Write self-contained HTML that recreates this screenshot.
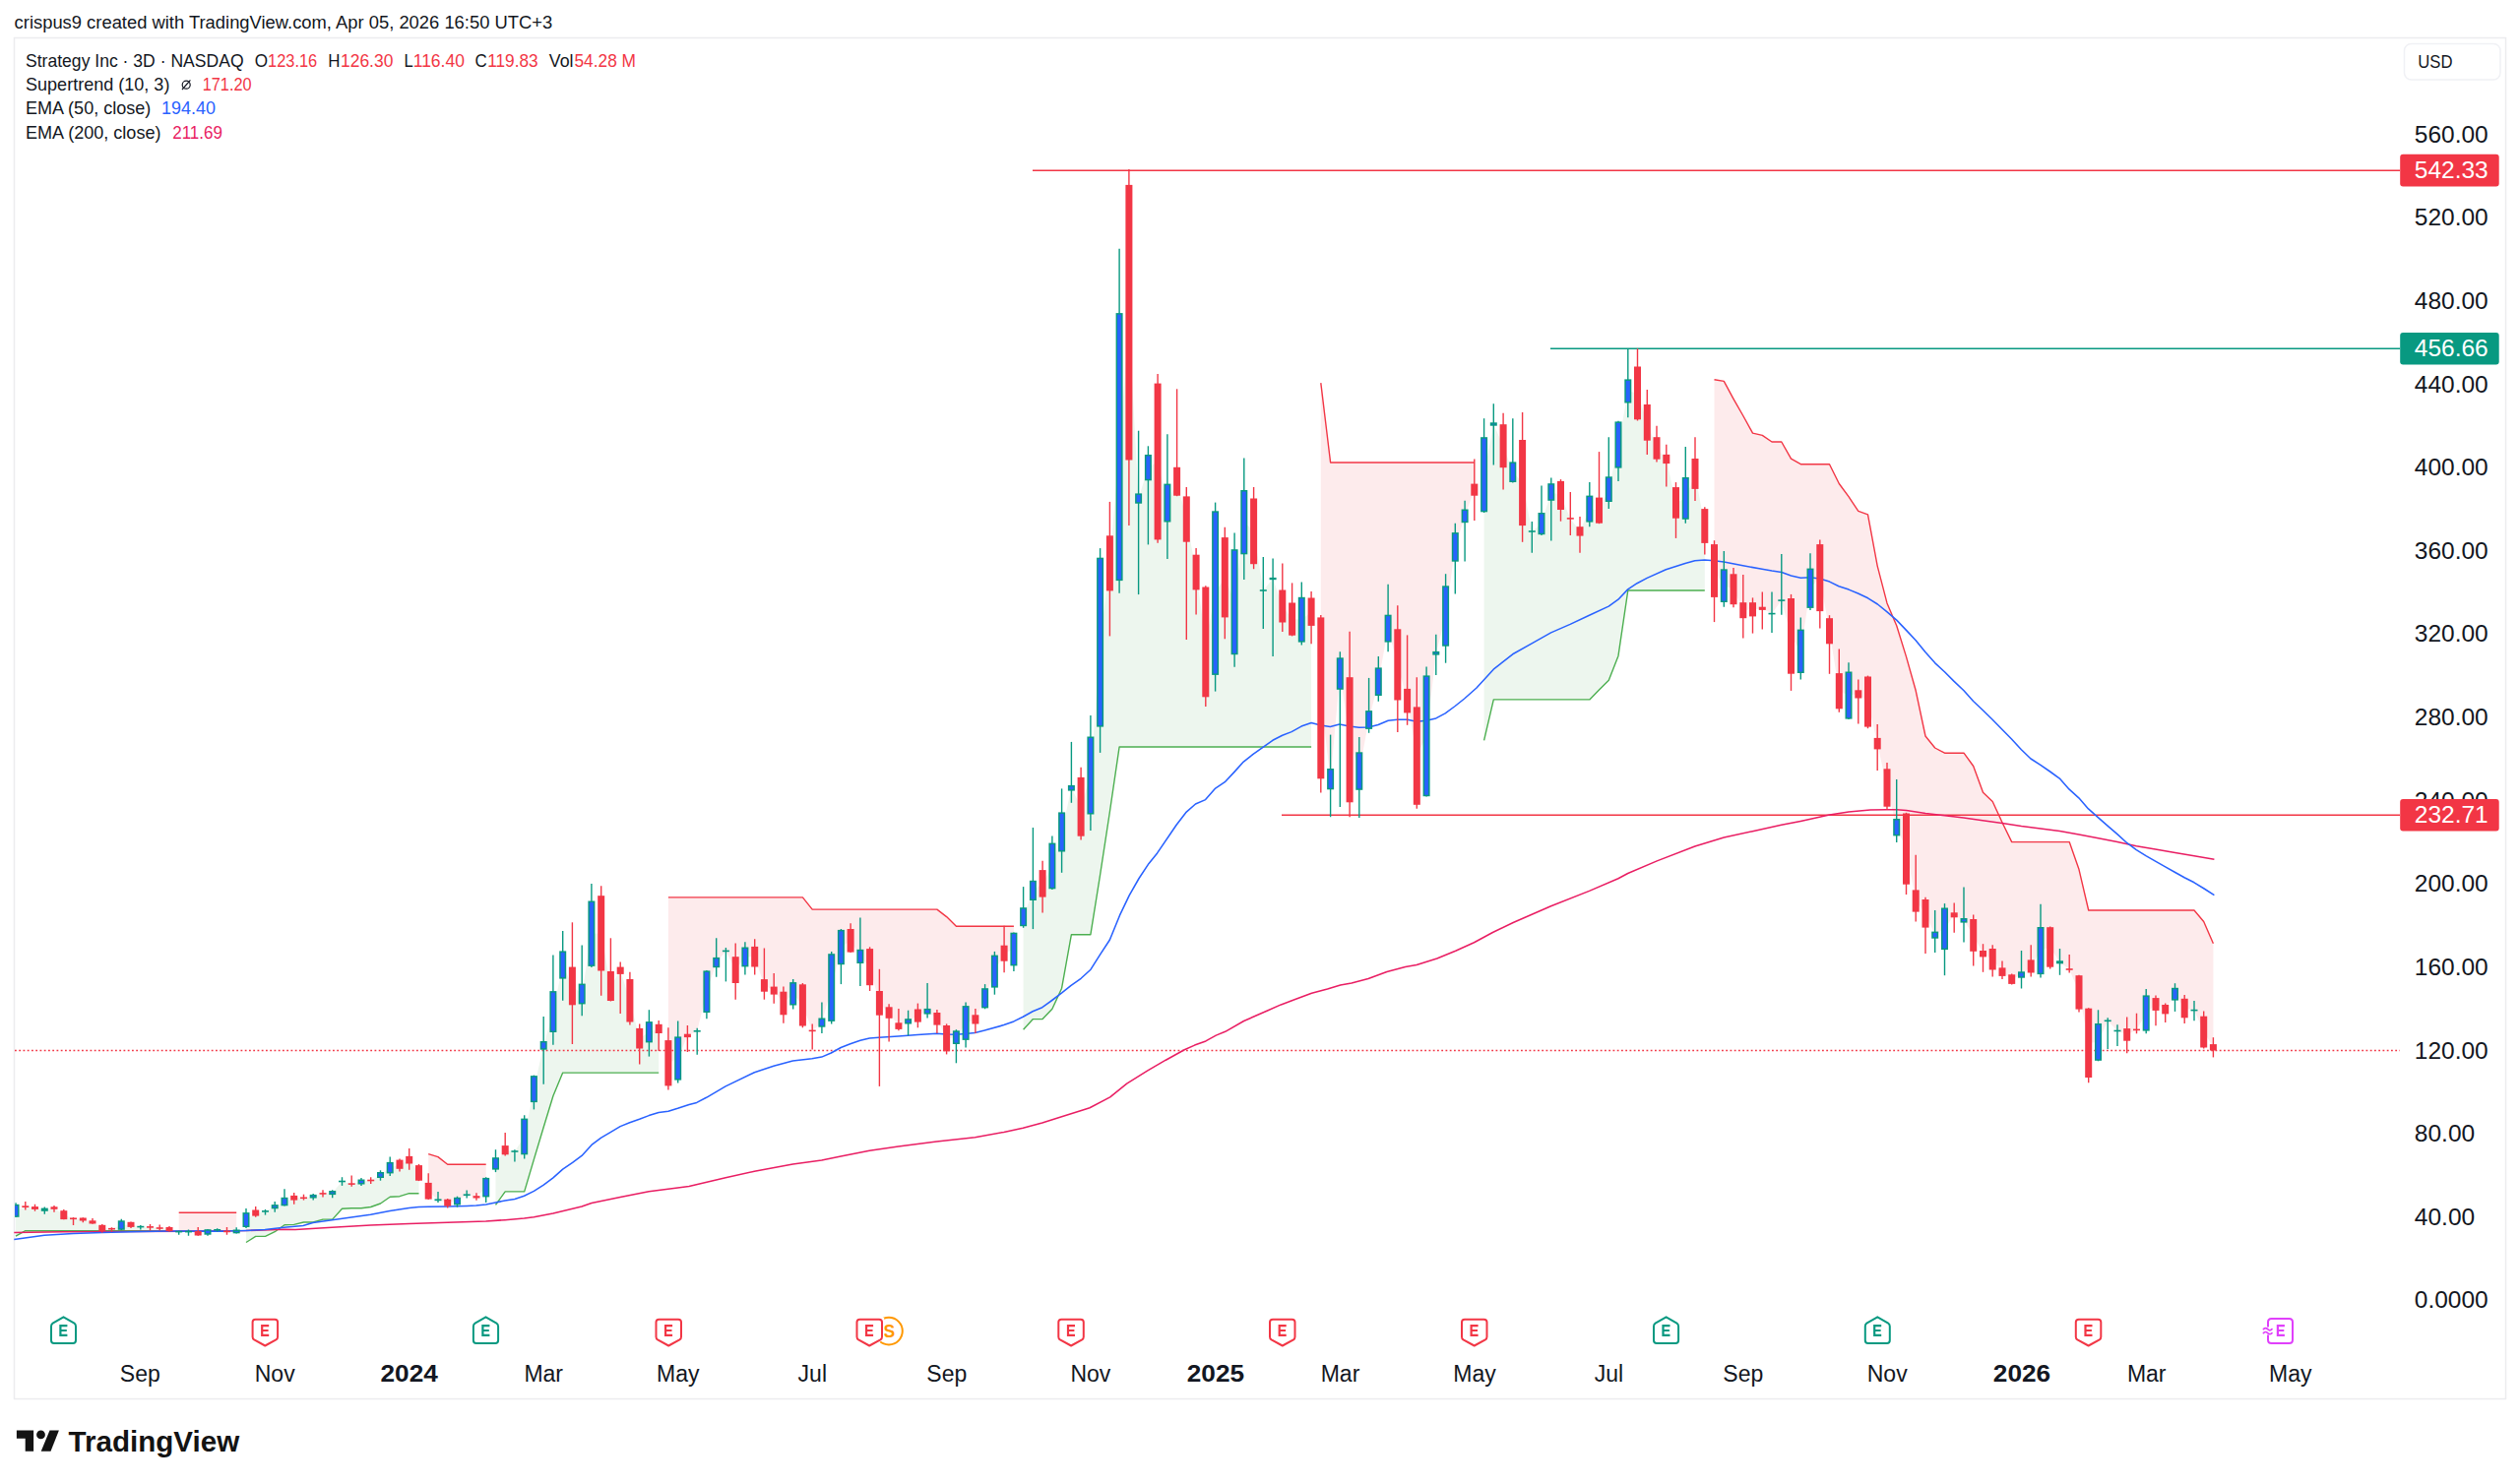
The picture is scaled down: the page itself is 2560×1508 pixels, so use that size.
<!DOCTYPE html>
<html><head><meta charset="utf-8"><title>MSTR chart</title>
<style>html,body{margin:0;padding:0;background:#fff}body{width:2560px;height:1508px;overflow:hidden;font-family:"Liberation Sans", sans-serif}svg{display:block}text{font-family:"Liberation Sans", sans-serif}</style>
</head><body>
<svg width="2560" height="1508" viewBox="0 0 2560 1508">
<rect width="2560" height="1508" fill="#fff"/>
<rect x="14.5" y="38.5" width="2531" height="1383" fill="#fff" stroke="#ececef" stroke-width="1.5"/>
<path d="M16 1256.2 L25.8 1250.7 L35.5 1250.7 L45.3 1250.7 L55 1250.7 L64.8 1250.7 L74.5 1250.7 L84.3 1250.7 L94 1250.7 L103.8 1250.7 L113.5 1250.7 L123.3 1250.7 L133 1250.7 L142.8 1250.7 L152.5 1250.7 L162.2 1250.7 L172 1250.7 L172 1249.1 L162.2 1248 L152.5 1246.9 L142.8 1246.6 L133 1244.4 L123.3 1245.1 L113.5 1248.7 L103.8 1247.9 L94 1241.9 L84.3 1239 L74.5 1238.3 L64.8 1234.6 L55 1227.6 L45.3 1229.2 L35.5 1227.5 L25.8 1226.2 L16 1230.3Z" fill="#edf6ee"/>
<path d="M181.7 1232.3 L191.5 1232.3 L201.2 1232.3 L211 1232.3 L220.7 1232.3 L230.5 1232.3 L240.2 1232.3 L240.2 1251.4 L230.5 1251.4 L220.7 1249.8 L211 1251.9 L201.2 1253.3 L191.5 1251.6 L181.7 1251.6Z" fill="#fdebec"/>
<path d="M250 1262.5 L259.7 1256.4 L269.5 1256.4 L279.2 1251.7 L289 1244.8 L298.7 1244.4 L308.5 1242 L318.2 1242 L328 1239.1 L337.7 1239.1 L347.5 1228.3 L357.2 1227.8 L367 1227.8 L376.7 1226.5 L386.5 1223 L396.2 1216.2 L406 1215.7 L415.7 1212.7 L425.5 1212.7 L425.5 1191.9 L415.7 1178.7 L406 1183.2 L396.2 1186.6 L386.5 1193.9 L376.7 1199.5 L367 1201 L357.2 1203.1 L347.5 1200.5 L337.7 1212 L328 1212.9 L318.2 1215.7 L308.5 1217.3 L298.7 1217.3 L289 1221.1 L279.2 1226.2 L269.5 1230.9 L259.7 1232.6 L250 1239.5Z" fill="#edf6ee"/>
<path d="M435.2 1172.6 L445 1175.6 L454.7 1183.2 L464.5 1183.2 L474.2 1183.2 L484 1183.2 L493.7 1183.2 L493.7 1206.6 L484 1216.4 L474.2 1214.2 L464.5 1220.6 L454.7 1222.1 L445 1219.4 L435.2 1210.3Z" fill="#fdebec"/>
<path d="M503.5 1224.4 L513.2 1210.9 L522.9 1210.9 L532.7 1210.9 L542.4 1178.1 L552.2 1145.5 L561.9 1113.7 L571.7 1090.1 L581.4 1090.1 L591.2 1090.1 L600.9 1090.1 L610.7 1090.1 L620.4 1090.1 L630.2 1090.1 L639.9 1090.1 L649.7 1090.1 L659.4 1090.1 L669.2 1090.1 L669.2 1045.4 L659.4 1048.7 L649.7 1055.3 L639.9 1016.8 L630.2 986.3 L620.4 1002 L610.7 948.4 L600.9 948.7 L591.2 1010 L581.4 1002 L571.7 980.5 L561.9 1028.1 L552.2 1062.4 L542.4 1106.6 L532.7 1154.9 L522.9 1170 L513.2 1168.7 L503.5 1182.4Z" fill="#edf6ee"/>
<path d="M678.9 911.9 L688.7 911.9 L698.4 911.9 L708.2 911.9 L717.9 911.9 L727.7 911.9 L737.4 911.9 L747.2 911.9 L756.9 911.9 L766.7 911.9 L776.4 911.9 L786.2 911.9 L795.9 911.9 L805.7 911.9 L815.4 911.9 L825.2 924.1 L834.9 924.1 L844.7 924.1 L854.4 924.1 L864.1 924.1 L873.9 924.1 L883.6 924.1 L893.4 924.1 L903.1 924.1 L912.9 924.1 L922.6 924.1 L932.4 924.1 L942.1 924.1 L951.9 924.1 L961.6 931.6 L971.4 941.2 L981.1 941.2 L990.9 941.2 L1000.6 941.2 L1010.4 941.2 L1020.1 941.2 L1029.9 941.2 L1029.9 964.5 L1020.1 968.7 L1010.4 987.1 L1000.6 1014.3 L990.9 1035.9 L981.1 1039.5 L971.4 1054.2 L961.6 1055.2 L951.9 1035.3 L942.1 1027.7 L932.4 1032.1 L922.6 1037.8 L912.9 1042.6 L903.1 1029 L893.4 1019.4 L883.6 982.7 L873.9 971.9 L864.1 955.8 L854.4 962.5 L844.7 1003.6 L834.9 1039.1 L825.2 1047.4 L815.4 1021.4 L805.7 1009.7 L795.9 1019.5 L786.2 1006.6 L776.4 1001.4 L766.7 972.2 L756.9 972.5 L747.2 985.6 L737.4 966.4 L727.7 978 L717.9 1007.7 L708.2 1047.8 L698.4 1052.4 L688.7 1075.5 L678.9 1080.2Z" fill="#fdebec"/>
<path d="M1039.6 1046.2 L1049.4 1035.6 L1059.1 1035.6 L1068.9 1025.3 L1078.6 1004.2 L1088.4 949.7 L1098.1 949.7 L1107.9 949.7 L1117.6 889 L1127.4 825 L1137.1 759 L1146.9 759 L1156.6 759 L1166.4 759 L1176.1 759 L1185.9 759 L1195.6 759 L1205.3 759 L1215.1 759 L1224.8 759 L1234.6 759 L1244.3 759 L1254.1 759 L1263.8 759 L1273.6 759 L1283.3 759 L1293.1 759 L1302.8 759 L1312.6 759 L1322.3 759 L1332.1 759 L1332.1 621.7 L1322.3 629.7 L1312.6 629.1 L1302.8 616 L1293.1 588 L1283.3 600 L1273.6 539.8 L1263.8 530.6 L1254.1 611.7 L1244.3 586.8 L1234.6 602.6 L1224.8 652.4 L1215.1 581.6 L1205.3 527.5 L1195.6 489.3 L1185.9 511 L1176.1 469 L1166.4 475.2 L1156.6 506.6 L1146.9 327.7 L1137.1 454.1 L1127.4 572.3 L1117.6 652.7 L1107.9 788 L1098.1 819.8 L1088.4 800.8 L1078.6 845.5 L1068.9 879.9 L1059.1 897.8 L1049.4 904.9 L1039.6 931.7Z" fill="#edf6ee"/>
<path d="M1341.8 389.1 L1351.6 470 L1361.3 470 L1371.1 470 L1380.8 470 L1390.6 470 L1400.3 470 L1410.1 470 L1419.8 470 L1429.6 470 L1439.3 470 L1449.1 470 L1458.8 470 L1468.6 470 L1478.3 470 L1488.1 470 L1497.8 470 L1497.8 497.6 L1488.1 524.3 L1478.3 555.8 L1468.6 626 L1458.8 663.7 L1449.1 747.8 L1439.3 768.2 L1429.6 712.1 L1419.8 675.5 L1410.1 638.6 L1400.3 692.7 L1390.6 731.5 L1380.8 783.5 L1371.1 751.8 L1361.3 684.5 L1351.6 791.6 L1341.8 709.4Z" fill="#fdebec"/>
<path d="M1507.6 752.3 L1517.3 710.9 L1527.1 710.9 L1536.8 710.9 L1546.6 710.9 L1556.3 710.9 L1566 710.9 L1575.8 710.9 L1585.5 710.9 L1595.3 710.9 L1605 710.9 L1614.8 710.9 L1624.5 701 L1634.3 691.2 L1644 666.4 L1653.8 600 L1663.5 600 L1673.3 600 L1683 600 L1692.8 600 L1702.5 600 L1712.3 600 L1722 600 L1731.8 600 L1731.8 534.5 L1722 481.5 L1712.3 506.4 L1702.5 510.9 L1692.8 466.5 L1683 455.5 L1673.3 429.3 L1663.5 399.5 L1653.8 397.4 L1644 452 L1634.3 497.2 L1624.5 518.7 L1614.8 517.1 L1605 539.9 L1595.3 526.9 L1585.5 503.5 L1575.8 500 L1566 532.1 L1556.3 540 L1546.6 490.5 L1536.8 479.7 L1527.1 453.2 L1517.3 431.1 L1507.6 482.3Z" fill="#edf6ee"/>
<path d="M1741.5 385.8 L1751.3 387.4 L1761 405.3 L1770.8 422.5 L1780.5 440.1 L1790.3 442.4 L1800 449 L1809.8 449 L1819.5 466.2 L1829.3 471.7 L1839 471.7 L1848.8 471.7 L1858.5 471.7 L1868.3 491.5 L1878 504.7 L1887.8 519.4 L1897.5 522.8 L1907.2 575.1 L1917 612.9 L1926.7 635.8 L1936.5 667.4 L1946.2 701.8 L1956 748 L1965.7 760 L1975.5 765.2 L1985.2 765.2 L1995 765.2 L2004.7 778.5 L2014.5 805.3 L2024.2 814.5 L2034 835.7 L2043.7 855.6 L2053.5 855.6 L2063.2 855.6 L2073 855.6 L2082.7 855.6 L2092.5 855.6 L2102.2 855.6 L2112 883.6 L2121.7 925 L2131.5 925 L2141.2 925 L2151 925 L2160.7 925 L2170.5 925 L2180.2 925 L2190 925 L2199.7 925 L2209.5 925 L2219.2 925 L2229 925 L2238.7 936.5 L2248.4 958.7 L2248.4 1064.3 L2238.7 1048.6 L2229 1026.6 L2219.2 1024.6 L2209.5 1010.2 L2199.7 1025.7 L2190 1020.5 L2180.2 1029.5 L2170.5 1046.4 L2160.7 1051.4 L2151 1047.5 L2141.2 1037.3 L2131.5 1058.9 L2121.7 1059.8 L2112 1008.4 L2102.2 985 L2092.5 977.8 L2082.7 962.5 L2073 966 L2063.2 981.9 L2053.5 990.5 L2043.7 995.1 L2034 987.7 L2024.2 974.7 L2014.5 969.2 L2004.7 950.3 L1995 935.3 L1985.2 929.8 L1975.5 943.8 L1965.7 950.1 L1956 928.3 L1946.2 915.5 L1936.5 862.6 L1926.7 840.7 L1917 800.4 L1907.2 755.6 L1897.5 713.1 L1887.8 705.4 L1878 706.5 L1868.3 702.2 L1858.5 641.2 L1848.8 587.1 L1839 597.7 L1829.3 661.9 L1819.5 646.4 L1809.8 610.1 L1800 623.6 L1790.3 618.4 L1780.5 619.3 L1770.8 620.2 L1761 598.8 L1751.3 595.1 L1741.5 580Z" fill="#fdebec"/>
<line x1="15" y1="1067.6" x2="2438" y2="1067.6" stroke="#f23645" stroke-width="1.5" stroke-dasharray="1.8 2.45"/>
<line x1="1049" y1="173.2" x2="2438" y2="173.2" stroke="#f23645" stroke-width="1.6"/>
<line x1="1575" y1="354.3" x2="2438" y2="354.3" stroke="#089981" stroke-width="1.6"/>
<line x1="1302" y1="828.3" x2="2438" y2="828.3" stroke="#f23645" stroke-width="1.6"/>
<path d="M16 1256.2 L25.8 1250.7 L35.5 1250.7 L45.3 1250.7 L55 1250.7 L64.8 1250.7 L74.5 1250.7 L84.3 1250.7 L94 1250.7 L103.8 1250.7 L113.5 1250.7 L123.3 1250.7 L133 1250.7 L142.8 1250.7 L152.5 1250.7 L162.2 1250.7 L172 1250.7" fill="none" stroke="#4caf50" stroke-width="1.4" stroke-linejoin="round"/>
<path d="M181.7 1232.3 L191.5 1232.3 L201.2 1232.3 L211 1232.3 L220.7 1232.3 L230.5 1232.3 L240.2 1232.3" fill="none" stroke="#f23645" stroke-width="1.4" stroke-linejoin="round"/>
<path d="M250 1262.5 L259.7 1256.4 L269.5 1256.4 L279.2 1251.7 L289 1244.8 L298.7 1244.4 L308.5 1242 L318.2 1242 L328 1239.1 L337.7 1239.1 L347.5 1228.3 L357.2 1227.8 L367 1227.8 L376.7 1226.5 L386.5 1223 L396.2 1216.2 L406 1215.7 L415.7 1212.7 L425.5 1212.7" fill="none" stroke="#4caf50" stroke-width="1.4" stroke-linejoin="round"/>
<path d="M435.2 1172.6 L445 1175.6 L454.7 1183.2 L464.5 1183.2 L474.2 1183.2 L484 1183.2 L493.7 1183.2" fill="none" stroke="#f23645" stroke-width="1.4" stroke-linejoin="round"/>
<path d="M503.5 1224.4 L513.2 1210.9 L522.9 1210.9 L532.7 1210.9 L542.4 1178.1 L552.2 1145.5 L561.9 1113.7 L571.7 1090.1 L581.4 1090.1 L591.2 1090.1 L600.9 1090.1 L610.7 1090.1 L620.4 1090.1 L630.2 1090.1 L639.9 1090.1 L649.7 1090.1 L659.4 1090.1 L669.2 1090.1" fill="none" stroke="#4caf50" stroke-width="1.4" stroke-linejoin="round"/>
<path d="M678.9 911.9 L688.7 911.9 L698.4 911.9 L708.2 911.9 L717.9 911.9 L727.7 911.9 L737.4 911.9 L747.2 911.9 L756.9 911.9 L766.7 911.9 L776.4 911.9 L786.2 911.9 L795.9 911.9 L805.7 911.9 L815.4 911.9 L825.2 924.1 L834.9 924.1 L844.7 924.1 L854.4 924.1 L864.1 924.1 L873.9 924.1 L883.6 924.1 L893.4 924.1 L903.1 924.1 L912.9 924.1 L922.6 924.1 L932.4 924.1 L942.1 924.1 L951.9 924.1 L961.6 931.6 L971.4 941.2 L981.1 941.2 L990.9 941.2 L1000.6 941.2 L1010.4 941.2 L1020.1 941.2 L1029.9 941.2" fill="none" stroke="#f23645" stroke-width="1.4" stroke-linejoin="round"/>
<path d="M1039.6 1046.2 L1049.4 1035.6 L1059.1 1035.6 L1068.9 1025.3 L1078.6 1004.2 L1088.4 949.7 L1098.1 949.7 L1107.9 949.7 L1117.6 889 L1127.4 825 L1137.1 759 L1146.9 759 L1156.6 759 L1166.4 759 L1176.1 759 L1185.9 759 L1195.6 759 L1205.3 759 L1215.1 759 L1224.8 759 L1234.6 759 L1244.3 759 L1254.1 759 L1263.8 759 L1273.6 759 L1283.3 759 L1293.1 759 L1302.8 759 L1312.6 759 L1322.3 759 L1332.1 759" fill="none" stroke="#4caf50" stroke-width="1.4" stroke-linejoin="round"/>
<path d="M1341.8 389.1 L1351.6 470 L1361.3 470 L1371.1 470 L1380.8 470 L1390.6 470 L1400.3 470 L1410.1 470 L1419.8 470 L1429.6 470 L1439.3 470 L1449.1 470 L1458.8 470 L1468.6 470 L1478.3 470 L1488.1 470 L1497.8 470" fill="none" stroke="#f23645" stroke-width="1.4" stroke-linejoin="round"/>
<path d="M1507.6 752.3 L1517.3 710.9 L1527.1 710.9 L1536.8 710.9 L1546.6 710.9 L1556.3 710.9 L1566 710.9 L1575.8 710.9 L1585.5 710.9 L1595.3 710.9 L1605 710.9 L1614.8 710.9 L1624.5 701 L1634.3 691.2 L1644 666.4 L1653.8 600 L1663.5 600 L1673.3 600 L1683 600 L1692.8 600 L1702.5 600 L1712.3 600 L1722 600 L1731.8 600" fill="none" stroke="#4caf50" stroke-width="1.4" stroke-linejoin="round"/>
<path d="M1741.5 385.8 L1751.3 387.4 L1761 405.3 L1770.8 422.5 L1780.5 440.1 L1790.3 442.4 L1800 449 L1809.8 449 L1819.5 466.2 L1829.3 471.7 L1839 471.7 L1848.8 471.7 L1858.5 471.7 L1868.3 491.5 L1878 504.7 L1887.8 519.4 L1897.5 522.8 L1907.2 575.1 L1917 612.9 L1926.7 635.8 L1936.5 667.4 L1946.2 701.8 L1956 748 L1965.7 760 L1975.5 765.2 L1985.2 765.2 L1995 765.2 L2004.7 778.5 L2014.5 805.3 L2024.2 814.5 L2034 835.7 L2043.7 855.6 L2053.5 855.6 L2063.2 855.6 L2073 855.6 L2082.7 855.6 L2092.5 855.6 L2102.2 855.6 L2112 883.6 L2121.7 925 L2131.5 925 L2141.2 925 L2151 925 L2160.7 925 L2170.5 925 L2180.2 925 L2190 925 L2199.7 925 L2209.5 925 L2219.2 925 L2229 925 L2238.7 936.5 L2248.4 958.7" fill="none" stroke="#f23645" stroke-width="1.4" stroke-linejoin="round"/>
<path d="M14.3 1252.5 L63.5 1251.7 L127 1251.5 L190.5 1251.1 L249.8 1250.5 L288.5 1249.2 L300 1249.6 L337.3 1247.3 L376.5 1245 L415.5 1243.4 L454.6 1242.3 L493.6 1240.9 L513.1 1239.7 L532.5 1238.1 L542.4 1236.8 L561.9 1232.9 L591 1226 L601 1222.6 L630.1 1216.4 L659.2 1210.7 L688.5 1207 L700 1205.4 L737.1 1196.7 L766.4 1190.3 L805.4 1182.9 L834.7 1179 L854.2 1174.9 L883.3 1169.2 L912.6 1165.1 L951.5 1160 L990.5 1155.7 L1019.8 1150.4 L1039.3 1146.3 L1058.8 1141 L1078.5 1134.8 L1100 1127.9 L1107 1125.8 L1127.7 1114.9 L1144.7 1101.1 L1165.5 1088.1 L1184.3 1077.2 L1203.2 1066.8 L1213.6 1062.1 L1224.9 1057.9 L1235.3 1052.1 L1244.7 1048.3 L1263.6 1037.5 L1274.9 1032.5 L1288.1 1026.8 L1301.3 1020.9 L1316.4 1015.3 L1332.5 1009.2 L1348.5 1005.1 L1361.7 1000.9 L1373 998.9 L1390 994.5 L1408.9 987.5 L1427.7 982.5 L1439.1 980.6 L1459.8 974 L1478.7 966.2 L1497.5 957.7 L1516.4 947.5 L1537.2 937.5 L1575.6 920.7 L1614.5 905.4 L1643.9 892.8 L1653.7 887.5 L1683.3 874.9 L1721.8 860 L1751.3 850.9 L1780.4 844.7 L1809.7 838.3 L1829.2 834.4 L1858.5 827.9 L1878 825 L1900 822.9 L1916.7 822.8 L1926.8 822.8 L1936.7 823.5 L1956.1 826.5 L1975.6 828.8 L1994.8 831.1 L2014.1 833.8 L2034 836.6 L2053.5 839.6 L2073 841.9 L2092.4 844.6 L2111.9 848 L2131.6 851.7 L2150.9 855.6 L2170.3 859.7 L2189.6 862.9 L2209.7 866.4 L2229 869.8 L2249.4 873.2" fill="none" stroke="#e91e63" stroke-width="1.55" stroke-linejoin="round"/>
<path d="M14.3 1259.6 L45.1 1255.3 L74.4 1253.4 L103.7 1252.4 L132.4 1251.7 L171.7 1251.1 L201.1 1251.1 L229.8 1251.1 L249.8 1250.5 L269.2 1249.5 L288.5 1247.3 L307.9 1245.4 L317.9 1242.5 L337.3 1239.7 L356.8 1237 L376.5 1234.2 L396 1230.6 L415.5 1227.4 L425.3 1226.5 L434.9 1226.2 L454.6 1226 L474.1 1225.5 L483.7 1225.1 L493.6 1223.9 L503.4 1221.9 L513.1 1220 L522.9 1218.4 L532.5 1215.2 L542.4 1210.4 L552.2 1204.2 L561.9 1196.9 L571.7 1188.1 L581.6 1181.3 L591 1174.4 L601 1163.4 L610.7 1156.1 L620.5 1150.3 L630.1 1144.6 L639.7 1140.7 L649.6 1137.3 L659.2 1133.6 L669.1 1130.4 L678.9 1129.3 L688.5 1126.3 L700 1122.4 L707.8 1120.4 L717.6 1115.3 L737.1 1103.9 L766.4 1089.7 L785.9 1083.3 L805.4 1078 L824.9 1075.7 L834.7 1074.1 L844.3 1070 L854.2 1064.5 L863.8 1060.8 L873.9 1057.2 L883.3 1055.1 L893.1 1054.2 L912.6 1053 L932.1 1051.4 L951.5 1050.3 L961.4 1051 L971 1051.2 L980.9 1050.5 L990.5 1049.6 L1000.3 1047.1 L1019.8 1041.6 L1029.9 1037.9 L1039.3 1033.3 L1049.1 1027.8 L1058.8 1023.7 L1068.7 1016.5 L1078.7 1008.9 L1088.1 1001.4 L1098.1 994.3 L1108 985.2 L1117.5 970.1 L1127.4 955 L1137.5 930.2 L1147.2 909.8 L1157.1 892.5 L1167.1 877.4 L1175.6 866.9 L1195.1 838.3 L1204.7 825.7 L1214.5 817 L1224.6 812.6 L1234.7 801.1 L1244.3 794.7 L1254 784.4 L1263.3 774.1 L1273.4 766.1 L1283.3 759.2 L1292.9 752.3 L1302.7 747.3 L1312.1 743.6 L1322 738.1 L1332.1 734.5 L1341.7 737 L1351.3 738.4 L1360.7 736.1 L1370.8 738.1 L1380.6 739.3 L1390.3 739.1 L1400.1 736.5 L1410.2 732.2 L1419.6 731.3 L1429.7 731.3 L1439.1 733.3 L1448.9 732.2 L1458.8 729.9 L1468.2 724.9 L1478.2 717.5 L1487.6 710 L1500 699 L1517.2 680.2 L1536.7 664.8 L1556.1 653.9 L1575.6 642.9 L1595.1 634.4 L1614.5 625.2 L1634.2 616.1 L1643.9 609.2 L1653.7 598.9 L1663.1 592.7 L1673.2 587.4 L1692.4 578.7 L1711.9 572.5 L1721.8 569.8 L1731.8 569.1 L1741.2 569.8 L1751.3 570.9 L1770.6 574.8 L1790 578.3 L1800 580.1 L1809.9 581.5 L1819.5 584.9 L1829.3 587.2 L1838.7 586.8 L1848.6 588.1 L1858.6 591.1 L1868 595.7 L1878.1 599.1 L1887.5 603 L1897.6 607.8 L1907.4 614 L1916.8 621.6 L1926.7 630.1 L1936.5 640.4 L1946.2 650.7 L1955.8 662.6 L1965.6 673.6 L1975.5 682.7 L1985.1 692.4 L1995 701.8 L2004.6 712.5 L2014.4 721.7 L2024.1 731.3 L2033.9 741.2 L2043.5 751 L2053.4 761.8 L2063 771 L2072.9 777.4 L2082.5 784 L2092.3 791.1 L2101.9 801.9 L2111.8 810.8 L2121.5 821.9 L2131.6 830.9 L2141 839.1 L2150.9 847.6 L2160.9 856.7 L2170.3 863.6 L2180.4 869.8 L2189.6 875.1 L2199.7 880.8 L2209.7 886.5 L2219.1 891.8 L2229 896.8 L2239.1 903 L2249.4 909.7" fill="none" stroke="#2962ff" stroke-width="1.55" stroke-linejoin="round"/>
<g clip-path="url(#cl)"><path d="M16 1222.3V1237" stroke="#089981" stroke-width="1.4"/><rect x="12.5" y="1223.8" width="7" height="13" fill="#089981"/><rect x="14" y="1225.3" width="4" height="10" fill="#2962ff"/><path d="M25.8 1221V1229.5" stroke="#f23645" stroke-width="1.4"/><rect x="22.3" y="1225.3" width="7" height="1.7" fill="#f23645"/><path d="M35.5 1223.8V1230.8" stroke="#f23645" stroke-width="1.4"/><rect x="32" y="1226.1" width="7" height="2.8" fill="#f23645"/><path d="M45.3 1226.6V1233.7" stroke="#089981" stroke-width="1.4"/><rect x="41.8" y="1227.6" width="7" height="3.2" fill="#089981"/><path d="M55 1225.1V1231.7" stroke="#f23645" stroke-width="1.4"/><rect x="51.5" y="1226.3" width="7" height="2.5" fill="#f23645"/><path d="M64.8 1228.9V1239.3" stroke="#f23645" stroke-width="1.4"/><rect x="61.3" y="1230.2" width="7" height="8.9" fill="#f23645"/><path d="M74.5 1237.1V1245.1" stroke="#f23645" stroke-width="1.4"/><rect x="71" y="1237.5" width="7" height="1.6" fill="#f23645"/><path d="M84.3 1237.3V1242.2" stroke="#f23645" stroke-width="1.4"/><rect x="80.8" y="1237.5" width="7" height="3" fill="#f23645"/><path d="M94 1238V1243.7" stroke="#f23645" stroke-width="1.4"/><rect x="90.5" y="1240.3" width="7" height="3.2" fill="#f23645"/><path d="M103.8 1243.9V1252.8" stroke="#f23645" stroke-width="1.4"/><rect x="100.3" y="1244.8" width="7" height="6.3" fill="#f23645"/><path d="M113.5 1247.3V1251.7" stroke="#f23645" stroke-width="1.4"/><rect x="110" y="1247.9" width="7" height="1.6" fill="#f23645"/><path d="M123.3 1238.8V1250.1" stroke="#089981" stroke-width="1.4"/><rect x="119.8" y="1240.3" width="7" height="9.5" fill="#089981"/><rect x="121.3" y="1241.8" width="4" height="6.5" fill="#2962ff"/><path d="M133 1241.6V1247.9" stroke="#f23645" stroke-width="1.4"/><rect x="129.5" y="1241.8" width="7" height="5.1" fill="#f23645"/><path d="M142.8 1245.1V1249.5" stroke="#089981" stroke-width="1.4"/><rect x="139.3" y="1245.8" width="7" height="1.6" fill="#089981"/><path d="M152.5 1243.9V1250.2" stroke="#f23645" stroke-width="1.4"/><rect x="149" y="1246.1" width="7" height="1.6" fill="#f23645"/><path d="M162.2 1244.4V1250.2" stroke="#f23645" stroke-width="1.4"/><rect x="158.7" y="1247.2" width="7" height="1.6" fill="#f23645"/><path d="M172 1246V1251.7" stroke="#f23645" stroke-width="1.4"/><rect x="168.5" y="1247" width="7" height="4.1" fill="#f23645"/><path d="M181.7 1250.7V1254.7" stroke="#089981" stroke-width="1.4"/><rect x="178.2" y="1250.8" width="7" height="1.6" fill="#089981"/><path d="M191.5 1249.5V1255.8" stroke="#089981" stroke-width="1.4"/><rect x="188" y="1250.8" width="7" height="1.6" fill="#089981"/><path d="M201.2 1246.9V1255.8" stroke="#f23645" stroke-width="1.4"/><rect x="197.7" y="1251.1" width="7" height="4.4" fill="#f23645"/><path d="M211 1249V1255.8" stroke="#089981" stroke-width="1.4"/><rect x="207.5" y="1249.2" width="7" height="5.5" fill="#089981"/><rect x="209" y="1250.7" width="4" height="2.5" fill="#2962ff"/><path d="M220.7 1248.2V1251.5" stroke="#089981" stroke-width="1.4"/><rect x="217.2" y="1249" width="7" height="1.6" fill="#089981"/><path d="M230.5 1246.9V1254.7" stroke="#f23645" stroke-width="1.4"/><rect x="227" y="1250.6" width="7" height="1.6" fill="#f23645"/><path d="M240.2 1247.3V1253.5" stroke="#089981" stroke-width="1.4"/><rect x="236.7" y="1249.5" width="7" height="3.8" fill="#089981"/><rect x="238.2" y="1251" width="4" height="0.8" fill="#2962ff"/><path d="M250 1228V1247.9" stroke="#089981" stroke-width="1.4"/><rect x="246.5" y="1232.1" width="7" height="14.9" fill="#089981"/><rect x="248" y="1233.6" width="4" height="11.9" fill="#2962ff"/><path d="M259.7 1226V1236.8" stroke="#f23645" stroke-width="1.4"/><rect x="256.2" y="1229.5" width="7" height="6.1" fill="#f23645"/><path d="M269.5 1228.9V1234.6" stroke="#089981" stroke-width="1.4"/><rect x="266" y="1230.1" width="7" height="1.6" fill="#089981"/><path d="M279.2 1220.9V1231.7" stroke="#089981" stroke-width="1.4"/><rect x="275.7" y="1224.1" width="7" height="4.2" fill="#089981"/><rect x="277.2" y="1225.6" width="4" height="1.2" fill="#2962ff"/><path d="M289 1208.2V1225.6" stroke="#089981" stroke-width="1.4"/><rect x="285.5" y="1216.8" width="7" height="8.5" fill="#089981"/><rect x="287" y="1218.3" width="4" height="5.5" fill="#2962ff"/><path d="M298.7 1212.1V1223.8" stroke="#f23645" stroke-width="1.4"/><rect x="295.2" y="1214.9" width="7" height="4.7" fill="#f23645"/><path d="M308.5 1213.7V1219.6" stroke="#f23645" stroke-width="1.4"/><rect x="305" y="1216.5" width="7" height="1.6" fill="#f23645"/><path d="M318.2 1213V1219.4" stroke="#089981" stroke-width="1.4"/><rect x="314.7" y="1213.9" width="7" height="3.6" fill="#089981"/><rect x="316.2" y="1215.4" width="4" height="0.6" fill="#2962ff"/><path d="M328 1209.3V1216.4" stroke="#f23645" stroke-width="1.4"/><rect x="324.5" y="1212.1" width="7" height="1.6" fill="#f23645"/><path d="M337.7 1209.3V1217.3" stroke="#089981" stroke-width="1.4"/><rect x="334.2" y="1210" width="7" height="4.1" fill="#089981"/><rect x="335.7" y="1211.5" width="4" height="1.1" fill="#2962ff"/><path d="M347.5 1196.2V1204.9" stroke="#089981" stroke-width="1.4"/><rect x="344" y="1199.7" width="7" height="1.6" fill="#089981"/><path d="M357.2 1194.4V1205.8" stroke="#f23645" stroke-width="1.4"/><rect x="353.7" y="1202.3" width="7" height="1.6" fill="#f23645"/><path d="M367 1196.9V1204.9" stroke="#089981" stroke-width="1.4"/><rect x="363.5" y="1198.5" width="7" height="5" fill="#089981"/><rect x="365" y="1200" width="4" height="2" fill="#2962ff"/><path d="M376.7 1196.2V1203.1" stroke="#f23645" stroke-width="1.4"/><rect x="373.2" y="1198.7" width="7" height="1.6" fill="#f23645"/><path d="M386.5 1189.3V1199.7" stroke="#089981" stroke-width="1.4"/><rect x="383" y="1191" width="7" height="6" fill="#089981"/><rect x="384.5" y="1192.5" width="4" height="3" fill="#2962ff"/><path d="M396.2 1175.6V1195.1" stroke="#089981" stroke-width="1.4"/><rect x="392.7" y="1180.9" width="7" height="11.5" fill="#089981"/><rect x="394.2" y="1182.4" width="4" height="8.5" fill="#2962ff"/><path d="M406 1177.4V1190.5" stroke="#f23645" stroke-width="1.4"/><rect x="402.5" y="1178.6" width="7" height="9.2" fill="#f23645"/><path d="M415.7 1167.1V1188.7" stroke="#f23645" stroke-width="1.4"/><rect x="412.2" y="1174.9" width="7" height="7.6" fill="#f23645"/><path d="M425.5 1182.9V1200.1" stroke="#f23645" stroke-width="1.4"/><rect x="422" y="1184.1" width="7" height="15.6" fill="#f23645"/><path d="M435.2 1192.3V1219.1" stroke="#f23645" stroke-width="1.4"/><rect x="431.7" y="1201.9" width="7" height="16.7" fill="#f23645"/><path d="M445 1211.1V1222.1" stroke="#089981" stroke-width="1.4"/><rect x="441.5" y="1218.4" width="7" height="1.8" fill="#089981"/><path d="M454.7 1218V1227.6" stroke="#f23645" stroke-width="1.4"/><rect x="451.2" y="1218.7" width="7" height="6.9" fill="#f23645"/><path d="M464.5 1215.7V1226.7" stroke="#089981" stroke-width="1.4"/><rect x="461" y="1216.8" width="7" height="7.6" fill="#089981"/><rect x="462.5" y="1218.3" width="4" height="4.6" fill="#2962ff"/><path d="M474.2 1209.5V1217.5" stroke="#089981" stroke-width="1.4"/><rect x="470.7" y="1213.4" width="7" height="1.6" fill="#089981"/><path d="M484 1212.3V1219.8" stroke="#f23645" stroke-width="1.4"/><rect x="480.5" y="1215.2" width="7" height="2.3" fill="#f23645"/><path d="M493.7 1196.2V1222.1" stroke="#089981" stroke-width="1.4"/><rect x="490.2" y="1196.9" width="7" height="19.5" fill="#089981"/><rect x="491.7" y="1198.4" width="4" height="16.5" fill="#2962ff"/><path d="M503.5 1168.2V1191.1" stroke="#089981" stroke-width="1.4"/><rect x="500" y="1176.2" width="7" height="12.4" fill="#089981"/><rect x="501.5" y="1177.7" width="4" height="9.4" fill="#2962ff"/><path d="M513.2 1151V1174.4" stroke="#f23645" stroke-width="1.4"/><rect x="509.7" y="1164.1" width="7" height="9.2" fill="#f23645"/><path d="M522.9 1168.2V1180.6" stroke="#089981" stroke-width="1.4"/><rect x="519.4" y="1169.2" width="7" height="1.6" fill="#089981"/><path d="M532.7 1133.2V1177.4" stroke="#089981" stroke-width="1.4"/><rect x="529.2" y="1136.6" width="7" height="36.7" fill="#089981"/><rect x="530.7" y="1138.1" width="4" height="33.7" fill="#2962ff"/><path d="M542.4 1092.6V1127.4" stroke="#089981" stroke-width="1.4"/><rect x="538.9" y="1093.1" width="7" height="27" fill="#089981"/><rect x="540.4" y="1094.6" width="4" height="24" fill="#2962ff"/><path d="M552.2 1033V1101.8" stroke="#089981" stroke-width="1.4"/><rect x="548.7" y="1058" width="7" height="8.7" fill="#089981"/><rect x="550.2" y="1059.5" width="4" height="5.7" fill="#2962ff"/><path d="M561.9 970.5V1061.7" stroke="#089981" stroke-width="1.4"/><rect x="558.4" y="1007.1" width="7" height="41.9" fill="#089981"/><rect x="559.9" y="1008.6" width="4" height="38.9" fill="#2962ff"/><path d="M571.7 946V1016.8" stroke="#089981" stroke-width="1.4"/><rect x="568.2" y="966.4" width="7" height="28.2" fill="#089981"/><rect x="569.7" y="967.9" width="4" height="25.2" fill="#2962ff"/><path d="M581.4 937.3V1061" stroke="#f23645" stroke-width="1.4"/><rect x="577.9" y="982.6" width="7" height="38.7" fill="#f23645"/><path d="M591.2 960.6V1032.3" stroke="#089981" stroke-width="1.4"/><rect x="587.7" y="999.6" width="7" height="20.8" fill="#089981"/><rect x="589.2" y="1001.1" width="4" height="17.8" fill="#2962ff"/><path d="M600.9 897.9V983.1" stroke="#089981" stroke-width="1.4"/><rect x="597.4" y="915.5" width="7" height="66.4" fill="#089981"/><rect x="598.9" y="917" width="4" height="63.4" fill="#2962ff"/><path d="M610.7 900.2V1011.7" stroke="#f23645" stroke-width="1.4"/><rect x="607.2" y="910.2" width="7" height="76.3" fill="#f23645"/><path d="M620.4 953.3V1017.5" stroke="#f23645" stroke-width="1.4"/><rect x="616.9" y="987" width="7" height="30" fill="#f23645"/><path d="M630.2 977.4V1030.1" stroke="#f23645" stroke-width="1.4"/><rect x="626.7" y="982.6" width="7" height="7.3" fill="#f23645"/><path d="M639.9 987.7V1041.5" stroke="#f23645" stroke-width="1.4"/><rect x="636.4" y="995" width="7" height="43.5" fill="#f23645"/><path d="M649.7 1040.4V1081.6" stroke="#f23645" stroke-width="1.4"/><rect x="646.2" y="1044.9" width="7" height="20.6" fill="#f23645"/><path d="M659.4 1026.2V1073.6" stroke="#089981" stroke-width="1.4"/><rect x="655.9" y="1038.1" width="7" height="21.3" fill="#089981"/><rect x="657.4" y="1039.6" width="4" height="18.3" fill="#2962ff"/><path d="M669.2 1036.9V1067.9" stroke="#f23645" stroke-width="1.4"/><rect x="665.7" y="1040.8" width="7" height="9.2" fill="#f23645"/><path d="M678.9 1044.3V1107.5" stroke="#f23645" stroke-width="1.4"/><rect x="675.4" y="1057.1" width="7" height="46.3" fill="#f23645"/><path d="M688.7 1037.6V1100.4" stroke="#089981" stroke-width="1.4"/><rect x="685.2" y="1053.4" width="7" height="44.2" fill="#089981"/><rect x="686.7" y="1054.9" width="4" height="41.2" fill="#2962ff"/><path d="M698.4 1042V1069" stroke="#f23645" stroke-width="1.4"/><rect x="694.9" y="1050.7" width="7" height="3.4" fill="#f23645"/><path d="M708.2 1044.8V1071.8" stroke="#089981" stroke-width="1.4"/><rect x="704.7" y="1047" width="7" height="1.6" fill="#089981"/><path d="M717.9 985.9V1035.2" stroke="#089981" stroke-width="1.4"/><rect x="714.4" y="986.4" width="7" height="42.6" fill="#089981"/><rect x="715.9" y="987.9" width="4" height="39.6" fill="#2962ff"/><path d="M727.7 953.2V992.8" stroke="#089981" stroke-width="1.4"/><rect x="724.2" y="972.9" width="7" height="10.3" fill="#089981"/><rect x="725.7" y="974.4" width="4" height="7.3" fill="#2962ff"/><path d="M737.4 963V997.4" stroke="#089981" stroke-width="1.4"/><rect x="733.9" y="965.6" width="7" height="1.6" fill="#089981"/><path d="M747.2 958.4V1015.7" stroke="#f23645" stroke-width="1.4"/><rect x="743.7" y="972.2" width="7" height="26.8" fill="#f23645"/><path d="M756.9 957.3V990.5" stroke="#089981" stroke-width="1.4"/><rect x="753.4" y="962.5" width="7" height="19.9" fill="#089981"/><rect x="754.9" y="964" width="4" height="16.9" fill="#2962ff"/><path d="M766.7 954.3V990.5" stroke="#f23645" stroke-width="1.4"/><rect x="763.2" y="961.9" width="7" height="20.6" fill="#f23645"/><path d="M776.4 963.5V1015.7" stroke="#f23645" stroke-width="1.4"/><rect x="772.9" y="995.1" width="7" height="12.6" fill="#f23645"/><path d="M786.2 988.9V1019.8" stroke="#f23645" stroke-width="1.4"/><rect x="782.7" y="1002.6" width="7" height="8" fill="#f23645"/><path d="M795.9 1002.6V1039.7" stroke="#f23645" stroke-width="1.4"/><rect x="792.4" y="1007.7" width="7" height="23.6" fill="#f23645"/><path d="M805.7 995.1V1025.5" stroke="#089981" stroke-width="1.4"/><rect x="802.2" y="998.1" width="7" height="23.4" fill="#089981"/><rect x="803.7" y="999.6" width="4" height="20.4" fill="#2962ff"/><path d="M815.4 999V1044.3" stroke="#f23645" stroke-width="1.4"/><rect x="811.9" y="1000.3" width="7" height="42.2" fill="#f23645"/><path d="M825.2 1040.4V1066.6" stroke="#f23645" stroke-width="1.4"/><rect x="821.7" y="1046.6" width="7" height="1.6" fill="#f23645"/><path d="M834.9 1018.4V1050.1" stroke="#089981" stroke-width="1.4"/><rect x="831.4" y="1034.5" width="7" height="9.2" fill="#089981"/><rect x="832.9" y="1036" width="4" height="6.2" fill="#2962ff"/><path d="M844.7 966.9V1040.4" stroke="#089981" stroke-width="1.4"/><rect x="841.2" y="969.2" width="7" height="68.7" fill="#089981"/><rect x="842.7" y="970.7" width="4" height="65.7" fill="#2962ff"/><path d="M854.4 944V1000.1" stroke="#089981" stroke-width="1.4"/><rect x="850.9" y="944.9" width="7" height="35.3" fill="#089981"/><rect x="852.4" y="946.4" width="4" height="32.3" fill="#2962ff"/><path d="M864.1 938.3V968" stroke="#f23645" stroke-width="1.4"/><rect x="860.6" y="944" width="7" height="23.6" fill="#f23645"/><path d="M873.9 932.5V1001.9" stroke="#089981" stroke-width="1.4"/><rect x="870.4" y="964.8" width="7" height="14.2" fill="#089981"/><rect x="871.9" y="966.3" width="4" height="11.2" fill="#2962ff"/><path d="M883.6 962.3V1007" stroke="#f23645" stroke-width="1.4"/><rect x="880.1" y="964.1" width="7" height="37.1" fill="#f23645"/><path d="M893.4 984.8V1103.9" stroke="#f23645" stroke-width="1.4"/><rect x="889.9" y="1007" width="7" height="24.7" fill="#f23645"/><path d="M903.1 1020.3V1058.5" stroke="#f23645" stroke-width="1.4"/><rect x="899.6" y="1023.3" width="7" height="11.5" fill="#f23645"/><path d="M912.9 1024.9V1047.3" stroke="#f23645" stroke-width="1.4"/><rect x="909.4" y="1039.3" width="7" height="6.6" fill="#f23645"/><path d="M922.6 1026.7V1052.3" stroke="#089981" stroke-width="1.4"/><rect x="919.1" y="1035.2" width="7" height="5.3" fill="#089981"/><rect x="920.6" y="1036.7" width="4" height="2.3" fill="#2962ff"/><path d="M932.4 1019.6V1044.3" stroke="#f23645" stroke-width="1.4"/><rect x="928.9" y="1025.5" width="7" height="13.1" fill="#f23645"/><path d="M942.1 999V1034.5" stroke="#089981" stroke-width="1.4"/><rect x="938.6" y="1024.9" width="7" height="5.7" fill="#089981"/><rect x="940.1" y="1026.4" width="4" height="2.7" fill="#2962ff"/><path d="M951.9 1026V1050.1" stroke="#f23645" stroke-width="1.4"/><rect x="948.4" y="1029" width="7" height="12.6" fill="#f23645"/><path d="M961.6 1040.4V1071.4" stroke="#f23645" stroke-width="1.4"/><rect x="958.1" y="1042" width="7" height="26.3" fill="#f23645"/><path d="M971.4 1046.2V1080.3" stroke="#089981" stroke-width="1.4"/><rect x="967.9" y="1047.3" width="7" height="13.7" fill="#089981"/><rect x="969.4" y="1048.8" width="4" height="10.7" fill="#2962ff"/><path d="M981.1 1018.4V1064.5" stroke="#089981" stroke-width="1.4"/><rect x="977.6" y="1022.1" width="7" height="34.8" fill="#089981"/><rect x="979.1" y="1023.6" width="4" height="31.8" fill="#2962ff"/><path d="M990.9 1024.9V1050.1" stroke="#f23645" stroke-width="1.4"/><rect x="987.4" y="1031.3" width="7" height="9.2" fill="#f23645"/><path d="M1000.6 1000.1V1025.3" stroke="#089981" stroke-width="1.4"/><rect x="997.1" y="1004.2" width="7" height="20.2" fill="#089981"/><rect x="998.6" y="1005.7" width="4" height="17.2" fill="#2962ff"/><path d="M1010.4 966.9V1010.7" stroke="#089981" stroke-width="1.4"/><rect x="1006.9" y="970.6" width="7" height="33" fill="#089981"/><rect x="1008.4" y="972.1" width="4" height="30" fill="#2962ff"/><path d="M1020.1 940.8V988.2" stroke="#f23645" stroke-width="1.4"/><rect x="1016.6" y="960.7" width="7" height="16" fill="#f23645"/><path d="M1029.9 947.4V987.1" stroke="#089981" stroke-width="1.4"/><rect x="1026.4" y="947.7" width="7" height="33.7" fill="#089981"/><rect x="1027.9" y="949.2" width="4" height="30.7" fill="#2962ff"/><path d="M1039.6 901.1V942.8" stroke="#089981" stroke-width="1.4"/><rect x="1036.1" y="922.2" width="7" height="19" fill="#089981"/><rect x="1037.6" y="923.7" width="4" height="16" fill="#2962ff"/><path d="M1049.4 841V944.1" stroke="#089981" stroke-width="1.4"/><rect x="1045.9" y="894.8" width="7" height="20.2" fill="#089981"/><rect x="1047.4" y="896.3" width="4" height="17.2" fill="#2962ff"/><path d="M1059.1 874.7V927.6" stroke="#f23645" stroke-width="1.4"/><rect x="1055.6" y="884.1" width="7" height="27.5" fill="#f23645"/><path d="M1068.9 849.5V904" stroke="#089981" stroke-width="1.4"/><rect x="1065.4" y="856.6" width="7" height="46.7" fill="#089981"/><rect x="1066.9" y="858.1" width="4" height="43.7" fill="#2962ff"/><path d="M1078.6 801.4V886.8" stroke="#089981" stroke-width="1.4"/><rect x="1075.1" y="825.4" width="7" height="40.1" fill="#089981"/><rect x="1076.6" y="826.9" width="4" height="37.1" fill="#2962ff"/><path d="M1088.4 753.9V815.8" stroke="#089981" stroke-width="1.4"/><rect x="1084.9" y="797.9" width="7" height="5.7" fill="#089981"/><rect x="1086.4" y="799.4" width="4" height="2.7" fill="#2962ff"/><path d="M1098.1 779.8V853.6" stroke="#f23645" stroke-width="1.4"/><rect x="1094.6" y="789.9" width="7" height="59.8" fill="#f23645"/><path d="M1107.9 727.1V844" stroke="#089981" stroke-width="1.4"/><rect x="1104.4" y="748.5" width="7" height="79" fill="#089981"/><rect x="1105.9" y="750" width="4" height="76" fill="#2962ff"/><path d="M1117.6 557.1V764.9" stroke="#089981" stroke-width="1.4"/><rect x="1114.1" y="566.7" width="7" height="171.9" fill="#089981"/><rect x="1115.6" y="568.2" width="4" height="168.9" fill="#2962ff"/><path d="M1127.4 509.9V646.4" stroke="#f23645" stroke-width="1.4"/><rect x="1123.9" y="544.3" width="7" height="56.1" fill="#f23645"/><path d="M1137.1 252.8V602.7" stroke="#089981" stroke-width="1.4"/><rect x="1133.6" y="318.1" width="7" height="272" fill="#089981"/><rect x="1135.1" y="319.6" width="4" height="269" fill="#2962ff"/><path d="M1146.9 171.9V534" stroke="#f23645" stroke-width="1.4"/><rect x="1143.4" y="187.9" width="7" height="279.6" fill="#f23645"/><path d="M1156.6 437.7V604.1" stroke="#089981" stroke-width="1.4"/><rect x="1153.1" y="501.4" width="7" height="10.3" fill="#089981"/><rect x="1154.6" y="502.9" width="4" height="7.3" fill="#2962ff"/><path d="M1166.4 453.3V553.4" stroke="#089981" stroke-width="1.4"/><rect x="1162.9" y="462" width="7" height="26.3" fill="#089981"/><rect x="1164.4" y="463.5" width="4" height="23.3" fill="#2962ff"/><path d="M1176.1 380V551.8" stroke="#f23645" stroke-width="1.4"/><rect x="1172.6" y="389.6" width="7" height="158.8" fill="#f23645"/><path d="M1185.9 441.2V567.9" stroke="#089981" stroke-width="1.4"/><rect x="1182.4" y="491.6" width="7" height="38.9" fill="#089981"/><rect x="1183.9" y="493.1" width="4" height="35.9" fill="#2962ff"/><path d="M1195.6 395.3V504.2" stroke="#f23645" stroke-width="1.4"/><rect x="1192.1" y="474.8" width="7" height="28.9" fill="#f23645"/><path d="M1205.3 495V649.9" stroke="#f23645" stroke-width="1.4"/><rect x="1201.8" y="504.4" width="7" height="46.3" fill="#f23645"/><path d="M1215.1 557.1V624.4" stroke="#f23645" stroke-width="1.4"/><rect x="1211.6" y="563.7" width="7" height="35.7" fill="#f23645"/><path d="M1224.8 595.3V717.9" stroke="#f23645" stroke-width="1.4"/><rect x="1221.3" y="596.5" width="7" height="111.8" fill="#f23645"/><path d="M1234.6 510.6V702.6" stroke="#089981" stroke-width="1.4"/><rect x="1231.1" y="519.3" width="7" height="166.6" fill="#089981"/><rect x="1232.6" y="520.8" width="4" height="163.6" fill="#2962ff"/><path d="M1244.3 535.8V649.2" stroke="#f23645" stroke-width="1.4"/><rect x="1240.8" y="546.1" width="7" height="81.3" fill="#f23645"/><path d="M1254.1 541.5V677.8" stroke="#089981" stroke-width="1.4"/><rect x="1250.6" y="558.2" width="7" height="107" fill="#089981"/><rect x="1252.1" y="559.7" width="4" height="104" fill="#2962ff"/><path d="M1263.8 465.5V588.9" stroke="#089981" stroke-width="1.4"/><rect x="1260.3" y="498" width="7" height="65.3" fill="#089981"/><rect x="1261.8" y="499.5" width="4" height="62.3" fill="#2962ff"/><path d="M1273.6 495V578.2" stroke="#f23645" stroke-width="1.4"/><rect x="1270.1" y="506.5" width="7" height="66.7" fill="#f23645"/><path d="M1283.3 566V638.9" stroke="#089981" stroke-width="1.4"/><rect x="1279.8" y="599.2" width="7" height="1.6" fill="#089981"/><path d="M1293.1 567.4V667.1" stroke="#089981" stroke-width="1.4"/><rect x="1289.6" y="586.9" width="7" height="2.3" fill="#089981"/><path d="M1302.8 572.4V641.9" stroke="#f23645" stroke-width="1.4"/><rect x="1299.3" y="599.5" width="7" height="33" fill="#f23645"/><path d="M1312.6 592.4V646.4" stroke="#f23645" stroke-width="1.4"/><rect x="1309.1" y="612.5" width="7" height="33.2" fill="#f23645"/><path d="M1322.3 591.5V655.6" stroke="#089981" stroke-width="1.4"/><rect x="1318.8" y="606.8" width="7" height="45.8" fill="#089981"/><rect x="1320.3" y="608.3" width="4" height="42.8" fill="#2962ff"/><path d="M1332.1 601.1V654.2" stroke="#f23645" stroke-width="1.4"/><rect x="1328.6" y="607.5" width="7" height="28.4" fill="#f23645"/><path d="M1341.8 625.1V805.5" stroke="#f23645" stroke-width="1.4"/><rect x="1338.3" y="627.4" width="7" height="163.9" fill="#f23645"/><path d="M1351.6 746.6V830.2" stroke="#089981" stroke-width="1.4"/><rect x="1348.1" y="781" width="7" height="21.3" fill="#089981"/><rect x="1349.6" y="782.5" width="4" height="18.3" fill="#2962ff"/><path d="M1361.3 662.3V819.9" stroke="#089981" stroke-width="1.4"/><rect x="1357.8" y="668.3" width="7" height="32.5" fill="#089981"/><rect x="1359.3" y="669.8" width="4" height="29.5" fill="#2962ff"/><path d="M1371.1 641.7V830.2" stroke="#f23645" stroke-width="1.4"/><rect x="1367.6" y="688.2" width="7" height="127.1" fill="#f23645"/><path d="M1380.8 748.9V830.9" stroke="#089981" stroke-width="1.4"/><rect x="1377.3" y="764.3" width="7" height="38.5" fill="#089981"/><rect x="1378.8" y="765.8" width="4" height="35.5" fill="#2962ff"/><path d="M1390.6 688.9V744.8" stroke="#089981" stroke-width="1.4"/><rect x="1387.1" y="722.1" width="7" height="18.8" fill="#089981"/><rect x="1388.6" y="723.6" width="4" height="15.8" fill="#2962ff"/><path d="M1400.3 666.9V712.7" stroke="#089981" stroke-width="1.4"/><rect x="1396.8" y="678.4" width="7" height="28.6" fill="#089981"/><rect x="1398.3" y="679.9" width="4" height="25.6" fill="#2962ff"/><path d="M1410.1 593.7V662.2" stroke="#089981" stroke-width="1.4"/><rect x="1406.6" y="624.7" width="7" height="27.9" fill="#089981"/><rect x="1408.1" y="626.2" width="4" height="24.9" fill="#2962ff"/><path d="M1419.8 615.3V743.9" stroke="#f23645" stroke-width="1.4"/><rect x="1416.3" y="639.3" width="7" height="72.2" fill="#f23645"/><path d="M1429.6 645.4V736.8" stroke="#f23645" stroke-width="1.4"/><rect x="1426.1" y="699.9" width="7" height="24.5" fill="#f23645"/><path d="M1439.3 688.2V821.8" stroke="#f23645" stroke-width="1.4"/><rect x="1435.8" y="718.4" width="7" height="99.4" fill="#f23645"/><path d="M1449.1 677.4V809.6" stroke="#089981" stroke-width="1.4"/><rect x="1445.6" y="686.4" width="7" height="122.8" fill="#089981"/><rect x="1447.1" y="687.9" width="4" height="119.8" fill="#2962ff"/><path d="M1458.8 644.7V685.9" stroke="#089981" stroke-width="1.4"/><rect x="1455.3" y="661.9" width="7" height="3.7" fill="#089981"/><rect x="1456.8" y="663.4" width="4" height="0.7" fill="#2962ff"/><path d="M1468.6 583.2V673.7" stroke="#089981" stroke-width="1.4"/><rect x="1465.1" y="595.3" width="7" height="61.4" fill="#089981"/><rect x="1466.6" y="596.8" width="4" height="58.4" fill="#2962ff"/><path d="M1478.3 531.7V603.4" stroke="#089981" stroke-width="1.4"/><rect x="1474.8" y="541.1" width="7" height="29.6" fill="#089981"/><rect x="1476.3" y="542.6" width="4" height="26.6" fill="#2962ff"/><path d="M1488.1 508.8V570.6" stroke="#089981" stroke-width="1.4"/><rect x="1484.6" y="517.5" width="7" height="13.7" fill="#089981"/><rect x="1486.1" y="519" width="4" height="10.7" fill="#2962ff"/><path d="M1497.8 466.4V528.9" stroke="#f23645" stroke-width="1.4"/><rect x="1494.3" y="491.6" width="7" height="12.1" fill="#f23645"/><path d="M1507.6 425.2V521" stroke="#089981" stroke-width="1.4"/><rect x="1504.1" y="444.2" width="7" height="76.1" fill="#089981"/><rect x="1505.6" y="445.7" width="4" height="73.1" fill="#2962ff"/><path d="M1517.3 410.3V472.4" stroke="#089981" stroke-width="1.4"/><rect x="1513.8" y="429.3" width="7" height="3.4" fill="#089981"/><rect x="1515.3" y="430.8" width="4" height="0.4" fill="#2962ff"/><path d="M1527.1 419.7V497.6" stroke="#f23645" stroke-width="1.4"/><rect x="1523.6" y="431.2" width="7" height="44" fill="#f23645"/><path d="M1536.8 425.2V490.5" stroke="#089981" stroke-width="1.4"/><rect x="1533.3" y="469.4" width="7" height="20.6" fill="#089981"/><rect x="1534.8" y="470.9" width="4" height="17.6" fill="#2962ff"/><path d="M1546.6 419V550.8" stroke="#f23645" stroke-width="1.4"/><rect x="1543.1" y="447" width="7" height="87.1" fill="#f23645"/><path d="M1556.3 530.1V561.8" stroke="#089981" stroke-width="1.4"/><rect x="1552.8" y="539.2" width="7" height="1.6" fill="#089981"/><path d="M1566 493.5V543.9" stroke="#089981" stroke-width="1.4"/><rect x="1562.5" y="521" width="7" height="22.2" fill="#089981"/><rect x="1564" y="522.5" width="4" height="19.2" fill="#2962ff"/><path d="M1575.8 485.5V549.6" stroke="#089981" stroke-width="1.4"/><rect x="1572.3" y="491.2" width="7" height="17.6" fill="#089981"/><rect x="1573.8" y="492.7" width="4" height="14.6" fill="#2962ff"/><path d="M1585.5 487.1V529.7" stroke="#f23645" stroke-width="1.4"/><rect x="1582" y="488.9" width="7" height="29.1" fill="#f23645"/><path d="M1595.3 499.9V543.9" stroke="#f23645" stroke-width="1.4"/><rect x="1591.8" y="526.1" width="7" height="1.6" fill="#f23645"/><path d="M1605 524.9V561.8" stroke="#f23645" stroke-width="1.4"/><rect x="1601.5" y="535.2" width="7" height="9.4" fill="#f23645"/><path d="M1614.8 490.1V535.2" stroke="#089981" stroke-width="1.4"/><rect x="1611.3" y="503.6" width="7" height="27" fill="#089981"/><rect x="1612.8" y="505.1" width="4" height="24" fill="#2962ff"/><path d="M1624.5 459.1V532.2" stroke="#f23645" stroke-width="1.4"/><rect x="1621" y="505.6" width="7" height="26.1" fill="#f23645"/><path d="M1634.3 444.2V516.9" stroke="#089981" stroke-width="1.4"/><rect x="1630.8" y="484.3" width="7" height="25.7" fill="#089981"/><rect x="1632.3" y="485.8" width="4" height="22.7" fill="#2962ff"/><path d="M1644 427.7V488.9" stroke="#089981" stroke-width="1.4"/><rect x="1640.5" y="428.4" width="7" height="47.2" fill="#089981"/><rect x="1642" y="429.9" width="4" height="44.2" fill="#2962ff"/><path d="M1653.8 354.2V424.3" stroke="#089981" stroke-width="1.4"/><rect x="1650.3" y="385.4" width="7" height="24.1" fill="#089981"/><rect x="1651.8" y="386.9" width="4" height="21.1" fill="#2962ff"/><path d="M1663.5 354.2V427.5" stroke="#f23645" stroke-width="1.4"/><rect x="1660" y="372.5" width="7" height="53.8" fill="#f23645"/><path d="M1673.3 396.1V461.9" stroke="#f23645" stroke-width="1.4"/><rect x="1669.8" y="411" width="7" height="36.7" fill="#f23645"/><path d="M1683 432.8V469.4" stroke="#f23645" stroke-width="1.4"/><rect x="1679.5" y="444.2" width="7" height="22.5" fill="#f23645"/><path d="M1692.8 451.8V494.6" stroke="#f23645" stroke-width="1.4"/><rect x="1689.3" y="461.9" width="7" height="9.2" fill="#f23645"/><path d="M1702.5 490.1V546.9" stroke="#f23645" stroke-width="1.4"/><rect x="1699" y="495.1" width="7" height="31.6" fill="#f23645"/><path d="M1712.3 454.1V531.8" stroke="#089981" stroke-width="1.4"/><rect x="1708.8" y="485" width="7" height="42.8" fill="#089981"/><rect x="1710.3" y="486.5" width="4" height="39.8" fill="#2962ff"/><path d="M1722 444.2V509.1" stroke="#f23645" stroke-width="1.4"/><rect x="1718.5" y="466" width="7" height="30.9" fill="#f23645"/><path d="M1731.8 515.3V563.4" stroke="#f23645" stroke-width="1.4"/><rect x="1728.3" y="517.1" width="7" height="34.8" fill="#f23645"/><path d="M1741.5 549.2V632.1" stroke="#f23645" stroke-width="1.4"/><rect x="1738" y="553.1" width="7" height="53.8" fill="#f23645"/><path d="M1751.3 559.9V616.7" stroke="#089981" stroke-width="1.4"/><rect x="1747.8" y="578.3" width="7" height="33.7" fill="#089981"/><rect x="1749.3" y="579.8" width="4" height="30.7" fill="#2962ff"/><path d="M1761 577.1V617.2" stroke="#f23645" stroke-width="1.4"/><rect x="1757.5" y="583.3" width="7" height="30.9" fill="#f23645"/><path d="M1770.8 584V648.6" stroke="#f23645" stroke-width="1.4"/><rect x="1767.3" y="612.2" width="7" height="16" fill="#f23645"/><path d="M1780.5 607.4V643.6" stroke="#f23645" stroke-width="1.4"/><rect x="1777" y="612.2" width="7" height="14.2" fill="#f23645"/><path d="M1790.3 601.6V639.4" stroke="#f23645" stroke-width="1.4"/><rect x="1786.8" y="616.7" width="7" height="3.2" fill="#f23645"/><path d="M1800 601.6V642.9" stroke="#089981" stroke-width="1.4"/><rect x="1796.5" y="622.8" width="7" height="1.6" fill="#089981"/><path d="M1809.8 562.9V624.8" stroke="#089981" stroke-width="1.4"/><rect x="1806.3" y="609.3" width="7" height="1.6" fill="#089981"/><path d="M1819.5 603.9V701.9" stroke="#f23645" stroke-width="1.4"/><rect x="1816" y="608" width="7" height="76.7" fill="#f23645"/><path d="M1829.3 627.5V690.5" stroke="#089981" stroke-width="1.4"/><rect x="1825.8" y="639.6" width="7" height="44.4" fill="#089981"/><rect x="1827.3" y="641.1" width="4" height="41.4" fill="#2962ff"/><path d="M1839 562.2V620" stroke="#089981" stroke-width="1.4"/><rect x="1835.5" y="577.6" width="7" height="40.3" fill="#089981"/><rect x="1837" y="579.1" width="4" height="37.3" fill="#2962ff"/><path d="M1848.8 548.5V638.5" stroke="#f23645" stroke-width="1.4"/><rect x="1845.3" y="553.1" width="7" height="68" fill="#f23645"/><path d="M1858.5 625.2V684.8" stroke="#f23645" stroke-width="1.4"/><rect x="1855" y="628.2" width="7" height="26.1" fill="#f23645"/><path d="M1868.3 659.6V723.7" stroke="#f23645" stroke-width="1.4"/><rect x="1864.8" y="684.1" width="7" height="36.2" fill="#f23645"/><path d="M1878 673.3V731" stroke="#089981" stroke-width="1.4"/><rect x="1874.5" y="682.5" width="7" height="48.1" fill="#089981"/><rect x="1876" y="684" width="4" height="45.1" fill="#2962ff"/><path d="M1887.8 690.5V735.6" stroke="#f23645" stroke-width="1.4"/><rect x="1884.3" y="701.3" width="7" height="8.2" fill="#f23645"/><path d="M1897.5 686.6V740.2" stroke="#f23645" stroke-width="1.4"/><rect x="1894" y="687.5" width="7" height="51.1" fill="#f23645"/><path d="M1907.2 736.1V782.9" stroke="#f23645" stroke-width="1.4"/><rect x="1903.7" y="749.9" width="7" height="11.5" fill="#f23645"/><path d="M1917 775.1V822.8" stroke="#f23645" stroke-width="1.4"/><rect x="1913.5" y="781.3" width="7" height="38.4" fill="#f23645"/><path d="M1926.7 791.9V856.1" stroke="#089981" stroke-width="1.4"/><rect x="1923.2" y="832" width="7" height="17.4" fill="#089981"/><rect x="1924.7" y="833.5" width="4" height="14.4" fill="#2962ff"/><path d="M1936.5 825.8V909" stroke="#f23645" stroke-width="1.4"/><rect x="1933" y="826.5" width="7" height="72.2" fill="#f23645"/><path d="M1946.2 868.7V936.5" stroke="#f23645" stroke-width="1.4"/><rect x="1942.7" y="904.4" width="7" height="22.2" fill="#f23645"/><path d="M1956 911.7V969" stroke="#f23645" stroke-width="1.4"/><rect x="1952.5" y="914" width="7" height="28.6" fill="#f23645"/><path d="M1965.7 925V967.9" stroke="#089981" stroke-width="1.4"/><rect x="1962.2" y="946.6" width="7" height="7.1" fill="#089981"/><rect x="1963.7" y="948.1" width="4" height="4.1" fill="#2962ff"/><path d="M1975.5 918.1V991.2" stroke="#089981" stroke-width="1.4"/><rect x="1972" y="922.5" width="7" height="42.6" fill="#089981"/><rect x="1973.5" y="924" width="4" height="39.6" fill="#2962ff"/><path d="M1985.2 917.5V947.7" stroke="#f23645" stroke-width="1.4"/><rect x="1981.7" y="927.3" width="7" height="5" fill="#f23645"/><path d="M1995 901.4V957.5" stroke="#089981" stroke-width="1.4"/><rect x="1991.5" y="933" width="7" height="4.6" fill="#089981"/><rect x="1993" y="934.5" width="4" height="1.6" fill="#2962ff"/><path d="M2004.7 929.6V981.6" stroke="#f23645" stroke-width="1.4"/><rect x="2001.2" y="934" width="7" height="32.8" fill="#f23645"/><path d="M2014.5 959.2V987.8" stroke="#f23645" stroke-width="1.4"/><rect x="2011" y="966" width="7" height="6.4" fill="#f23645"/><path d="M2024.2 960.3V992.6" stroke="#f23645" stroke-width="1.4"/><rect x="2020.7" y="964" width="7" height="21.5" fill="#f23645"/><path d="M2034 976.6V994.9" stroke="#f23645" stroke-width="1.4"/><rect x="2030.5" y="983.4" width="7" height="8.5" fill="#f23645"/><path d="M2043.7 989.6V1000.6" stroke="#f23645" stroke-width="1.4"/><rect x="2040.2" y="990.3" width="7" height="9.6" fill="#f23645"/><path d="M2053.5 966V1004.5" stroke="#089981" stroke-width="1.4"/><rect x="2050" y="987.3" width="7" height="6.4" fill="#089981"/><rect x="2051.5" y="988.8" width="4" height="3.4" fill="#2962ff"/><path d="M2063.2 960.3V992.4" stroke="#f23645" stroke-width="1.4"/><rect x="2059.7" y="975.4" width="7" height="13.1" fill="#f23645"/><path d="M2073 918.8V993.5" stroke="#089981" stroke-width="1.4"/><rect x="2069.5" y="942" width="7" height="48.1" fill="#089981"/><rect x="2071" y="943.5" width="4" height="45.1" fill="#2962ff"/><path d="M2082.7 941.5V984.6" stroke="#f23645" stroke-width="1.4"/><rect x="2079.2" y="942.2" width="7" height="40.5" fill="#f23645"/><path d="M2092.5 964V990.8" stroke="#089981" stroke-width="1.4"/><rect x="2089" y="976.3" width="7" height="3" fill="#089981"/><path d="M2102.2 970.1V988.5" stroke="#f23645" stroke-width="1.4"/><rect x="2098.7" y="984.2" width="7" height="1.6" fill="#f23645"/><path d="M2112 990.8V1028.6" stroke="#f23645" stroke-width="1.4"/><rect x="2108.5" y="991.2" width="7" height="34.4" fill="#f23645"/><path d="M2121.7 1024.2V1100.3" stroke="#f23645" stroke-width="1.4"/><rect x="2118.2" y="1024.7" width="7" height="70.3" fill="#f23645"/><path d="M2131.5 1026.3V1078.3" stroke="#089981" stroke-width="1.4"/><rect x="2128" y="1040" width="7" height="37.8" fill="#089981"/><rect x="2129.5" y="1041.5" width="4" height="34.8" fill="#2962ff"/><path d="M2141.2 1034.3V1065.9" stroke="#089981" stroke-width="1.4"/><rect x="2137.7" y="1036.5" width="7" height="1.6" fill="#089981"/><path d="M2151 1041.2V1062.9" stroke="#089981" stroke-width="1.4"/><rect x="2147.5" y="1046.7" width="7" height="1.6" fill="#089981"/><path d="M2160.7 1033.6V1070.3" stroke="#f23645" stroke-width="1.4"/><rect x="2157.2" y="1045.1" width="7" height="12.6" fill="#f23645"/><path d="M2170.5 1029.7V1050.3" stroke="#f23645" stroke-width="1.4"/><rect x="2167" y="1045.6" width="7" height="1.6" fill="#f23645"/><path d="M2180.2 1005V1050.3" stroke="#089981" stroke-width="1.4"/><rect x="2176.7" y="1011.4" width="7" height="36.2" fill="#089981"/><rect x="2178.2" y="1012.9" width="4" height="33.2" fill="#2962ff"/><path d="M2190 1011.4V1042.3" stroke="#f23645" stroke-width="1.4"/><rect x="2186.5" y="1014.1" width="7" height="12.8" fill="#f23645"/><path d="M2199.7 1019.4V1038.9" stroke="#f23645" stroke-width="1.4"/><rect x="2196.2" y="1021" width="7" height="9.4" fill="#f23645"/><path d="M2209.5 999.2V1027.9" stroke="#089981" stroke-width="1.4"/><rect x="2206" y="1003.8" width="7" height="12.8" fill="#089981"/><rect x="2207.5" y="1005.3" width="4" height="9.8" fill="#2962ff"/><path d="M2219.2 1010.9V1040" stroke="#f23645" stroke-width="1.4"/><rect x="2215.7" y="1014.8" width="7" height="19.5" fill="#f23645"/><path d="M2229 1017.1V1037.3" stroke="#089981" stroke-width="1.4"/><rect x="2225.5" y="1025.8" width="7" height="1.6" fill="#089981"/><path d="M2238.7 1027.4V1065.5" stroke="#f23645" stroke-width="1.4"/><rect x="2235.2" y="1032.7" width="7" height="31.8" fill="#f23645"/><path d="M2248.4 1054.2V1074.4" stroke="#f23645" stroke-width="1.4"/><rect x="2244.9" y="1061.1" width="7" height="6.4" fill="#f23645"/></g>
<defs><clipPath id="cl"><rect x="15.2" y="39" width="2530" height="1382"/></clipPath></defs>
<text x="2452.8" y="144.8" font-size="24" fill="#131722" textLength="74.9" lengthAdjust="spacingAndGlyphs">560.00</text>
<text x="2452.8" y="229.4" font-size="24" fill="#131722" textLength="74.9" lengthAdjust="spacingAndGlyphs">520.00</text>
<text x="2452.8" y="314" font-size="24" fill="#131722" textLength="74.9" lengthAdjust="spacingAndGlyphs">480.00</text>
<text x="2452.8" y="398.6" font-size="24" fill="#131722" textLength="74.9" lengthAdjust="spacingAndGlyphs">440.00</text>
<text x="2452.8" y="483.2" font-size="24" fill="#131722" textLength="74.9" lengthAdjust="spacingAndGlyphs">400.00</text>
<text x="2452.8" y="567.8" font-size="24" fill="#131722" textLength="74.9" lengthAdjust="spacingAndGlyphs">360.00</text>
<text x="2452.8" y="652.4" font-size="24" fill="#131722" textLength="74.9" lengthAdjust="spacingAndGlyphs">320.00</text>
<text x="2452.8" y="737" font-size="24" fill="#131722" textLength="74.9" lengthAdjust="spacingAndGlyphs">280.00</text>
<text x="2452.8" y="821.7" font-size="24" fill="#131722" textLength="74.9" lengthAdjust="spacingAndGlyphs">240.00</text>
<text x="2452.8" y="906.3" font-size="24" fill="#131722" textLength="74.9" lengthAdjust="spacingAndGlyphs">200.00</text>
<text x="2452.8" y="990.9" font-size="24" fill="#131722" textLength="74.9" lengthAdjust="spacingAndGlyphs">160.00</text>
<text x="2452.8" y="1075.5" font-size="24" fill="#131722" textLength="74.9" lengthAdjust="spacingAndGlyphs">120.00</text>
<text x="2452.8" y="1160.1" font-size="24" fill="#131722" textLength="61.4" lengthAdjust="spacingAndGlyphs">80.00</text>
<text x="2452.8" y="1244.7" font-size="24" fill="#131722" textLength="61.4" lengthAdjust="spacingAndGlyphs">40.00</text>
<text x="2452.8" y="1329.3" font-size="24" fill="#131722" textLength="74.9" lengthAdjust="spacingAndGlyphs">0.0000</text>
<rect x="2438.2" y="156.8" width="100.5" height="32.6" rx="3" fill="#f23645"/>
<text x="2452.8" y="181.3" font-size="24" fill="#fff" textLength="74.9" lengthAdjust="spacingAndGlyphs">542.33</text>
<rect x="2438.2" y="337.9" width="100.5" height="32.6" rx="3" fill="#089981"/>
<text x="2452.8" y="362.4" font-size="24" fill="#fff" textLength="74.9" lengthAdjust="spacingAndGlyphs">456.66</text>
<rect x="2438.2" y="811.9" width="100.5" height="32.6" rx="3" fill="#f23645"/>
<text x="2452.8" y="836.4" font-size="24" fill="#fff" textLength="74.9" lengthAdjust="spacingAndGlyphs">232.71</text>
<rect x="2442.5" y="44.5" width="97.5" height="36.5" rx="7" fill="#fff" stroke="#f0f1f5" stroke-width="1.5"/>
<text x="2456.3" y="69.4" font-size="18.8" fill="#131722" textLength="35.2" lengthAdjust="spacingAndGlyphs">USD</text>
<text x="142.3" y="1403.6" font-size="23" text-anchor="middle" fill="#131722">Sep</text>
<text x="279.2" y="1403.6" font-size="23" text-anchor="middle" fill="#131722">Nov</text>
<text x="415.7" y="1403.6" font-size="23.5" text-anchor="middle" fill="#131722" font-weight="bold" textLength="58.3" lengthAdjust="spacingAndGlyphs">2024</text>
<text x="552.2" y="1403.6" font-size="23" text-anchor="middle" fill="#131722">Mar</text>
<text x="688.7" y="1403.6" font-size="23" text-anchor="middle" fill="#131722">May</text>
<text x="825.3" y="1403.6" font-size="23" text-anchor="middle" fill="#131722">Jul</text>
<text x="961.8" y="1403.6" font-size="23" text-anchor="middle" fill="#131722">Sep</text>
<text x="1107.9" y="1403.6" font-size="23" text-anchor="middle" fill="#131722">Nov</text>
<text x="1234.9" y="1403.6" font-size="23.5" text-anchor="middle" fill="#131722" font-weight="bold" textLength="58.3" lengthAdjust="spacingAndGlyphs">2025</text>
<text x="1361.5" y="1403.6" font-size="23" text-anchor="middle" fill="#131722">Mar</text>
<text x="1498" y="1403.6" font-size="23" text-anchor="middle" fill="#131722">May</text>
<text x="1634.5" y="1403.6" font-size="23" text-anchor="middle" fill="#131722">Jul</text>
<text x="1770.8" y="1403.6" font-size="23" text-anchor="middle" fill="#131722">Sep</text>
<text x="1917.2" y="1403.6" font-size="23" text-anchor="middle" fill="#131722">Nov</text>
<text x="2054" y="1403.6" font-size="23.5" text-anchor="middle" fill="#131722" font-weight="bold" textLength="58.3" lengthAdjust="spacingAndGlyphs">2026</text>
<text x="2180.7" y="1403.6" font-size="23" text-anchor="middle" fill="#131722">Mar</text>
<text x="2326.8" y="1403.6" font-size="23" text-anchor="middle" fill="#131722">May</text>
<path d="M64.5 1338.3L75.5 1344.6Q77 1345.6 77 1347.8V1362Q77 1364.9 74.1 1364.9H54.9Q52 1364.9 52 1362V1347.8Q52 1345.6 53.6 1344.6Z" fill="#fff" stroke="#089981" stroke-width="2" stroke-linejoin="round"/><path d="M68.4 1347.2H61.4V1356.8H68.4M61.4 1352H67.8" fill="none" stroke="#089981" stroke-width="2.2" stroke-linejoin="miter"/>
<path d="M493.5 1338.3L504.4 1344.6Q506.1 1345.6 506.1 1347.8V1362Q506.1 1364.9 503.2 1364.9H483.8Q480.9 1364.9 480.9 1362V1347.8Q480.9 1345.6 482.6 1344.6Z" fill="#fff" stroke="#089981" stroke-width="2" stroke-linejoin="round"/><path d="M497.4 1347.2H490.4V1356.8H497.4M490.4 1352H496.8" fill="none" stroke="#089981" stroke-width="2.2" stroke-linejoin="miter"/>
<path d="M1692.6 1338.3L1703.5 1344.6Q1705.1 1345.6 1705.1 1347.8V1362Q1705.1 1364.9 1702.2 1364.9H1683Q1680 1364.9 1680 1362V1347.8Q1680 1345.6 1681.6 1344.6Z" fill="#fff" stroke="#089981" stroke-width="2" stroke-linejoin="round"/><path d="M1696.5 1347.2H1689.5V1356.8H1696.5M1689.5 1352H1695.9" fill="none" stroke="#089981" stroke-width="2.2" stroke-linejoin="miter"/>
<path d="M1907.3 1338.3L1918.2 1344.6Q1919.8 1345.6 1919.8 1347.8V1362Q1919.8 1364.9 1916.9 1364.9H1897.7Q1894.8 1364.9 1894.8 1362V1347.8Q1894.8 1345.6 1896.3 1344.6Z" fill="#fff" stroke="#089981" stroke-width="2" stroke-linejoin="round"/><path d="M1911.2 1347.2H1904.2V1356.8H1911.2M1904.2 1352H1910.6" fill="none" stroke="#089981" stroke-width="2.2" stroke-linejoin="miter"/>
<circle cx="903" cy="1352.6" r="13.8" fill="#fff" stroke="#ff9800" stroke-width="2"/>
<text x="903.4" y="1358.6" font-size="17.5" font-weight="bold" text-anchor="middle" fill="#ff9800">S</text>
<path d="M868.2 1339H898.2V1361L883.2 1370L868.2 1361Z" fill="#fff"/>
<path d="M259.4 1340.7H279.2Q282.1 1340.7 282.1 1343.6V1358.4Q282.1 1360.4 280.4 1361.4L269.3 1367.5L258.2 1361.4Q256.6 1360.4 256.6 1358.4V1343.6Q256.6 1340.7 259.4 1340.7Z" fill="#fff" stroke="#f23645" stroke-width="2" stroke-linejoin="round"/><path d="M273.2 1347.2H266.2V1356.8H273.2M266.2 1352H272.6" fill="none" stroke="#f23645" stroke-width="2.2" stroke-linejoin="miter"/>
<path d="M669.4 1340.7H689.1Q692 1340.7 692 1343.6V1358.4Q692 1360.4 690.4 1361.4L679.2 1367.5L668.1 1361.4Q666.5 1360.4 666.5 1358.4V1343.6Q666.5 1340.7 669.4 1340.7Z" fill="#fff" stroke="#f23645" stroke-width="2" stroke-linejoin="round"/><path d="M683.1 1347.2H676.1V1356.8H683.1M676.1 1352H682.5" fill="none" stroke="#f23645" stroke-width="2.2" stroke-linejoin="miter"/>
<path d="M873.4 1340.7H893.1Q896 1340.7 896 1343.6V1358.4Q896 1360.4 894.4 1361.4L883.2 1367.5L872.1 1361.4Q870.5 1360.4 870.5 1358.4V1343.6Q870.5 1340.7 873.4 1340.7Z" fill="#fff" stroke="#f23645" stroke-width="2" stroke-linejoin="round"/><path d="M887.1 1347.2H880.1V1356.8H887.1M880.1 1352H886.5" fill="none" stroke="#f23645" stroke-width="2.2" stroke-linejoin="miter"/>
<path d="M1078.2 1340.7H1097.9Q1100.8 1340.7 1100.8 1343.6V1358.4Q1100.8 1360.4 1099.2 1361.4L1088.1 1367.5L1076.9 1361.4Q1075.3 1360.4 1075.3 1358.4V1343.6Q1075.3 1340.7 1078.2 1340.7Z" fill="#fff" stroke="#f23645" stroke-width="2" stroke-linejoin="round"/><path d="M1092 1347.2H1085V1356.8H1092M1085 1352H1091.4" fill="none" stroke="#f23645" stroke-width="2.2" stroke-linejoin="miter"/>
<path d="M1293 1340.7H1312.6Q1315.5 1340.7 1315.5 1343.6V1358.4Q1315.5 1360.4 1314 1361.4L1302.8 1367.5L1291.6 1361.4Q1290 1360.4 1290 1358.4V1343.6Q1290 1340.7 1293 1340.7Z" fill="#fff" stroke="#f23645" stroke-width="2" stroke-linejoin="round"/><path d="M1306.7 1347.2H1299.7V1356.8H1306.7M1299.7 1352H1306.1" fill="none" stroke="#f23645" stroke-width="2.2" stroke-linejoin="miter"/>
<path d="M1487.9 1340.7H1507.5Q1510.5 1340.7 1510.5 1343.6V1358.4Q1510.5 1360.4 1508.9 1361.4L1497.7 1367.5L1486.5 1361.4Q1485 1360.4 1485 1358.4V1343.6Q1485 1340.7 1487.9 1340.7Z" fill="#fff" stroke="#f23645" stroke-width="2" stroke-linejoin="round"/><path d="M1501.6 1347.2H1494.6V1356.8H1501.6M1494.6 1352H1501" fill="none" stroke="#f23645" stroke-width="2.2" stroke-linejoin="miter"/>
<path d="M2111.8 1340.7H2131.4Q2134.3 1340.7 2134.3 1343.6V1358.4Q2134.3 1360.4 2132.8 1361.4L2121.6 1367.5L2110.4 1361.4Q2108.8 1360.4 2108.8 1358.4V1343.6Q2108.8 1340.7 2111.8 1340.7Z" fill="#fff" stroke="#f23645" stroke-width="2" stroke-linejoin="round"/><path d="M2125.5 1347.2H2118.5V1356.8H2125.5M2118.5 1352H2124.9" fill="none" stroke="#f23645" stroke-width="2.2" stroke-linejoin="miter"/>
<path d="M2304 1347.8V1343.6Q2304 1340.1 2307.5 1340.1H2325.5Q2329 1340.1 2329 1343.6V1361.4Q2329 1364.9 2325.5 1364.9H2307.5Q2304 1364.9 2304 1361.4V1357.2" fill="none" stroke="#e040fb" stroke-width="2" stroke-linecap="round"/>
<path d="M2299.4 1350.7 Q2301.6 1348.5 2303.7 1350.7 T2308 1350.7" fill="none" stroke="#e040fb" stroke-width="1.7" stroke-linecap="round"/>
<path d="M2299.4 1354.6 Q2301.6 1352.4 2303.7 1354.6 T2308 1354.6" fill="none" stroke="#e040fb" stroke-width="1.7" stroke-linecap="round"/>
<path d="M2320.9 1347.2H2313.9V1356.8H2320.9M2313.9 1352H2320.3" fill="none" stroke="#e040fb" stroke-width="2.2" stroke-linejoin="miter"/>
<text x="14.6" y="28.5" font-size="18.3" fill="#131722" textLength="546.6" lengthAdjust="spacingAndGlyphs">crispus9 created with TradingView.com, Apr 05, 2026 16:50 UTC+3</text>
<text x="26" y="67.6" font-size="17.9" fill="#131722" textLength="221.6" lengthAdjust="spacingAndGlyphs">Strategy Inc · 3D · NASDAQ</text>
<text x="258.7" y="67.6" font-size="17.9" fill="#131722" textLength="13.3" lengthAdjust="spacingAndGlyphs">O</text>
<text x="272" y="67.6" font-size="17.9" fill="#f23645" textLength="50.2" lengthAdjust="spacingAndGlyphs">123.16</text>
<text x="333.3" y="67.6" font-size="17.9" fill="#131722" textLength="12.2" lengthAdjust="spacingAndGlyphs">H</text>
<text x="346" y="67.6" font-size="17.9" fill="#f23645" textLength="53.4" lengthAdjust="spacingAndGlyphs">126.30</text>
<text x="410.5" y="67.6" font-size="17.9" fill="#131722" textLength="9.2" lengthAdjust="spacingAndGlyphs">L</text>
<text x="419.7" y="67.6" font-size="17.9" fill="#f23645" textLength="52.3" lengthAdjust="spacingAndGlyphs">116.40</text>
<text x="482.5" y="67.6" font-size="17.9" fill="#131722" textLength="12.2" lengthAdjust="spacingAndGlyphs">C</text>
<text x="495.2" y="67.6" font-size="17.9" fill="#f23645" textLength="51.5" lengthAdjust="spacingAndGlyphs">119.83</text>
<text x="557.8" y="67.6" font-size="17.9" fill="#131722" textLength="24.7" lengthAdjust="spacingAndGlyphs">Vol</text>
<text x="583.5" y="67.6" font-size="17.9" fill="#f23645" textLength="62.5" lengthAdjust="spacingAndGlyphs">54.28 M</text>
<text x="26" y="92" font-size="17.9" fill="#131722" textLength="146.4" lengthAdjust="spacingAndGlyphs">Supertrend (10, 3)</text>
<text x="205.7" y="92" font-size="17.9" fill="#f23645" textLength="49.9" lengthAdjust="spacingAndGlyphs">171.20</text>
<circle cx="189.2" cy="86.2" r="4" fill="none" stroke="#131722" stroke-width="1.2"/><path d="M185 91L193.4 81.4" stroke="#131722" stroke-width="1.2"/>
<text x="26" y="116.4" font-size="17.9" fill="#131722" textLength="127.3" lengthAdjust="spacingAndGlyphs">EMA (50, close)</text>
<text x="164.1" y="116.4" font-size="17.9" fill="#2962ff" textLength="54.9" lengthAdjust="spacingAndGlyphs">194.40</text>
<text x="26" y="140.5" font-size="17.9" fill="#131722" textLength="137.5" lengthAdjust="spacingAndGlyphs">EMA (200, close)</text>
<text x="175.2" y="140.5" font-size="17.9" fill="#e91e63" textLength="50.8" lengthAdjust="spacingAndGlyphs">211.69</text>
<path d="M16.9 1453.4H34.1V1474.7H25.7V1461.8H16.9Z" fill="#131313"/>
<circle cx="41.5" cy="1457.9" r="4.4" fill="#131313"/>
<path d="M50.5 1453.4H59.9L51.5 1474.7H41.7Z" fill="#131313"/>
<text x="69.6" y="1474.7" font-size="29.6" font-weight="bold" textLength="173.6" lengthAdjust="spacingAndGlyphs" fill="#131313">TradingView</text>
</svg></body></html>
